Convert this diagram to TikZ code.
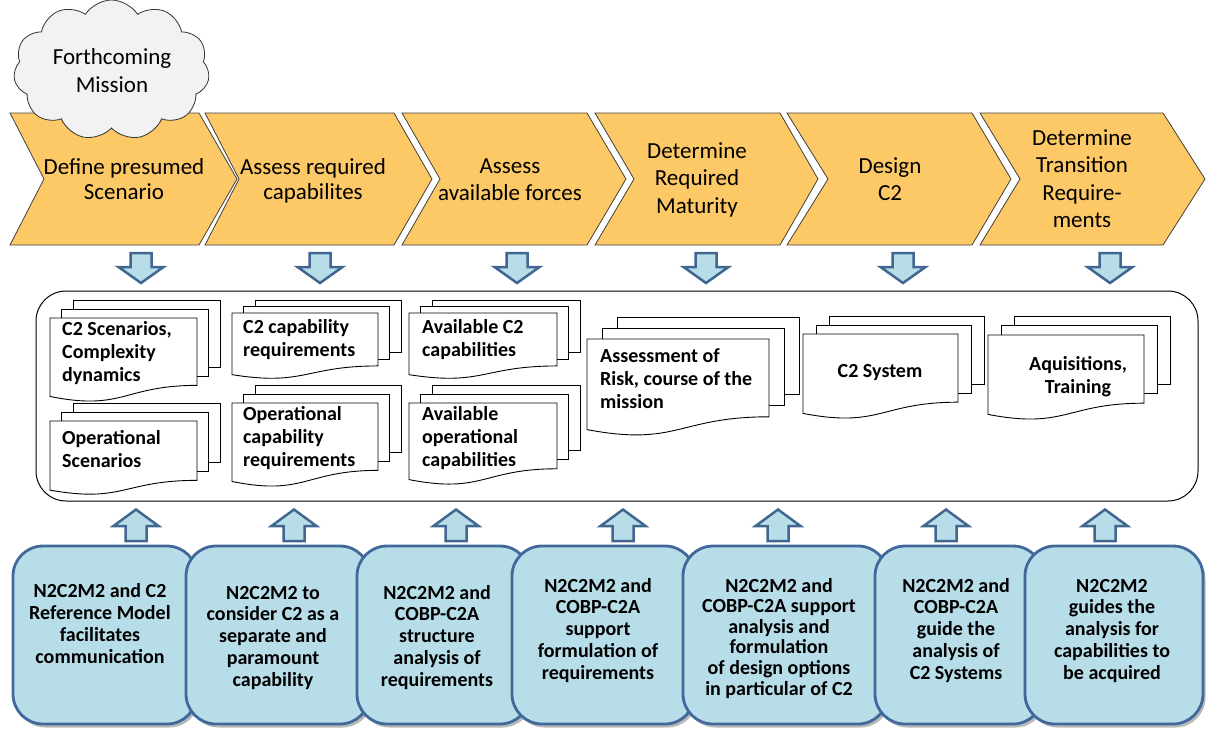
\documentclass[tikz,border=0pt]{standalone}
\usepackage{fontspec}
\setmainfont{Carlito}
\usetikzlibrary{shapes.symbols}
\definecolor{chev}{HTML}{FCC966}
\definecolor{arrfill}{HTML}{B7DEE8}
\definecolor{arrline}{HTML}{41668F}
\definecolor{boxfill}{HTML}{B7DDE8}
\definecolor{boxline}{HTML}{41689A}
\definecolor{cloudfill}{HTML}{F2F2F2}
\newcommand\mdoc[6]{%
  \pgfmathsetmacro\rb{#2+0.802*#4}%
  \pgfmathsetmacro\le{#2+0.934*#4}%
  \pgfmathsetmacro\cy{#2+1.1106*#4}%
  \pgfmathsetmacro\xm{#1+0.5*#3}%
  \draw[docpage] (#1+2*#5,#2-2*#6) rectangle (#1+#3+2*#5,\rb-2*#6);
  \draw[docpage] (#1+#5,#2-#6) rectangle (#1+#3+#5,\rb-#6);
  \draw[docpage] (#1,#2) -- (#1+#3,#2) -- (#1+#3,\rb) .. controls (\xm,\rb) and (\xm,\cy) .. (#1,\le) -- cycle;
}
\newcommand\chevshape[4]{%
  \draw[chevstyle] (#1,113) -- (#2,113) -- (#3,179) -- (#2,245) -- (#1,245) -- (#4,179) -- cycle;
}
\newcommand\downarr[1]{%
  \draw[blockarr] (#1-10.5,253) -- (#1-10.5,267) -- (#1-22.5,267) -- (#1,283) -- (#1+22.5,267) -- (#1+10.5,267) -- (#1+10.5,253) -- cycle;
}
\newcommand\uparr[1]{%
  \draw[blockarr] (#1-10.5,541) -- (#1-10.5,526) -- (#1-22.5,526) -- (#1,509.5) -- (#1+22.5,526) -- (#1+10.5,526) -- (#1+10.5,541) -- cycle;
}
\newcommand\bbox[2]{%
  \fill[gray!55,rounded corners=30] (#1+2.5,549.5) rectangle (#2+2.5,727.5);
  \draw[boxstyle] (#1,546) rectangle (#2,724);
}
\begin{document}
\begin{tikzpicture}[x=1pt,y=-1pt,
  chevstyle/.style={fill=chev,draw=black!75,line width=0.8pt,line join=miter},
  chevtext/.style={font=\fontsize{23}{27.5}\selectfont,align=center,inner sep=0},
  blockarr/.style={fill=arrfill,draw=arrline,line width=2.5pt,line join=miter},
  docpage/.style={fill=white,draw=black,line width=0.9pt},
  doctext/.style={font=\bfseries\fontsize{20}{23}\selectfont,align=left,inner sep=0},
  boxstyle/.style={fill=boxfill,draw=boxline,line width=2.8pt,rounded corners=30},
  boxtext/.style={font=\bfseries\fontsize{20}{21.7}\selectfont,align=center,inner sep=0}]
\useasboundingbox (0,0) rectangle (1209,729);
% chevrons
\chevshape{10}{199}{237}{44}
\chevshape{205}{394}{432}{239}
\chevshape{402}{587}{626}{440}
\chevshape{595}{780}{818}{634}
\chevshape{787}{972}{1011}{828}
\chevshape{980}{1163}{1205}{1020}
\node[chevtext,anchor=base,font=\fontsize{23}{25}\selectfont] (c1) at (124,199) {Define presumed\\Scenario};
\node[chevtext,anchor=base,font=\fontsize{23}{25}\selectfont] (c2) at (313,199) {Assess required\\capabilites};
\node[chevtext,anchor=base] (c3) at (510,200.5) {Assess\\available forces};
\node[chevtext,anchor=base] (c4) at (697,213) {Determine\\Required\\Maturity};
\node[chevtext,anchor=base] (c5) at (890,200.5) {Design\\C2};
\node[chevtext,anchor=base] (c6) at (1082,227.5) {Determine\\Transition\\Require-\\ments};
% cloud
\node[cloud,cloud puffs=11,cloud puff arc=115,aspect=1.5,draw=black!80,fill=cloudfill,line width=0.8pt,
  minimum width=196pt,minimum height=140pt,inner sep=0] (cloud) at (111.5,70) {};
\node[chevtext,anchor=base] (cloudtext) at (112,92) {Forthcoming\\Mission};
% down arrows
\foreach \x in {141,320,517,706,903,1110} {\downarr{\x}}
% big container
\draw[line width=1pt,rounded corners=30] (36,291) rectangle (1198,501);
\node[inner sep=0] (container) at (617,396) {};
% documents
\mdoc{50}{318}{147}{84}{11.5}{9}
\node[doctext,anchor=base west] (d1a) at (62,381) {C2 Scenarios,\\Complexity\\dynamics};
\mdoc{50}{421}{147}{74}{11.5}{9}
\node[doctext,anchor=base west] (d1b) at (62,467) {Operational\\Scenarios};
\mdoc{232}{313}{146}{66}{11.5}{6.5}
\node[doctext,anchor=base west] (d2a) at (243,356) {C2 capability\\requirements};
\mdoc{232}{403}{146}{84}{11.5}{9}
\node[doctext,anchor=base west] (d2b) at (243,466) {Operational\\capability\\requirements};
\mdoc{409}{313}{148}{66}{11.5}{6.5}
\node[doctext,anchor=base west] (d3a) at (422,356) {Available C2\\capabilities};
\mdoc{409}{403}{148}{82}{11.5}{9}
\node[doctext,anchor=base west] (d3b) at (422,466) {Available\\operational\\capabilities};
\mdoc{587}{339}{182}{97}{15}{11}
\node[doctext,anchor=base west] (d4) at (600,408) {Assessment of\\Risk, course of the\\mission};
\mdoc{803}{334}{155}{85}{13}{9}
\node[doctext,anchor=base] (d5) at (880,377) {C2 System};
\mdoc{988}{335}{156}{85}{13}{9.5}
\node[doctext,anchor=base,align=center] (d6) at (1078,393) {Aquisitions,\\Training};
% up arrows
\foreach \x in {136,294,456,623,778,946,1105} {\uparr{\x}}
% bottom boxes
\bbox{13}{197}
\bbox{186}{370}
\bbox{357}{530}
\bbox{512}{695}
\bbox{683}{888}
\bbox{875}{1043}
\bbox{1025}{1203}
\node[boxtext,anchor=base] (b1) at (100,663) {N2C2M2 and C2\\Reference Model\\facilitates\\communication};
\node[boxtext,anchor=base] (b2) at (273,686) {N2C2M2 to\\consider C2 as a\\separate and\\paramount\\capability};
\node[boxtext,anchor=base] (b3) at (437,686) {N2C2M2 and\\COBP-C2A\\structure\\analysis of\\requirements};
\node[boxtext,anchor=base] (b4) at (598,679) {N2C2M2 and\\COBP-C2A\\support\\formulation of\\requirements};
\node[boxtext,anchor=base,font=\bfseries\fontsize{20}{20.6}\selectfont] (b5) at (779,695) {N2C2M2 and\\COBP-C2A support\\analysis and\\formulation\\of design options\\in particular of C2};
\node[boxtext,anchor=base] (b6) at (956,679) {N2C2M2 and\\COBP-C2A\\guide the\\analysis of\\C2 Systems};
\node[boxtext,anchor=base] (b7) at (1112,679) {N2C2M2\\guides the\\analysis for\\capabilities to\\be acquired};
\end{tikzpicture}
\end{document}
